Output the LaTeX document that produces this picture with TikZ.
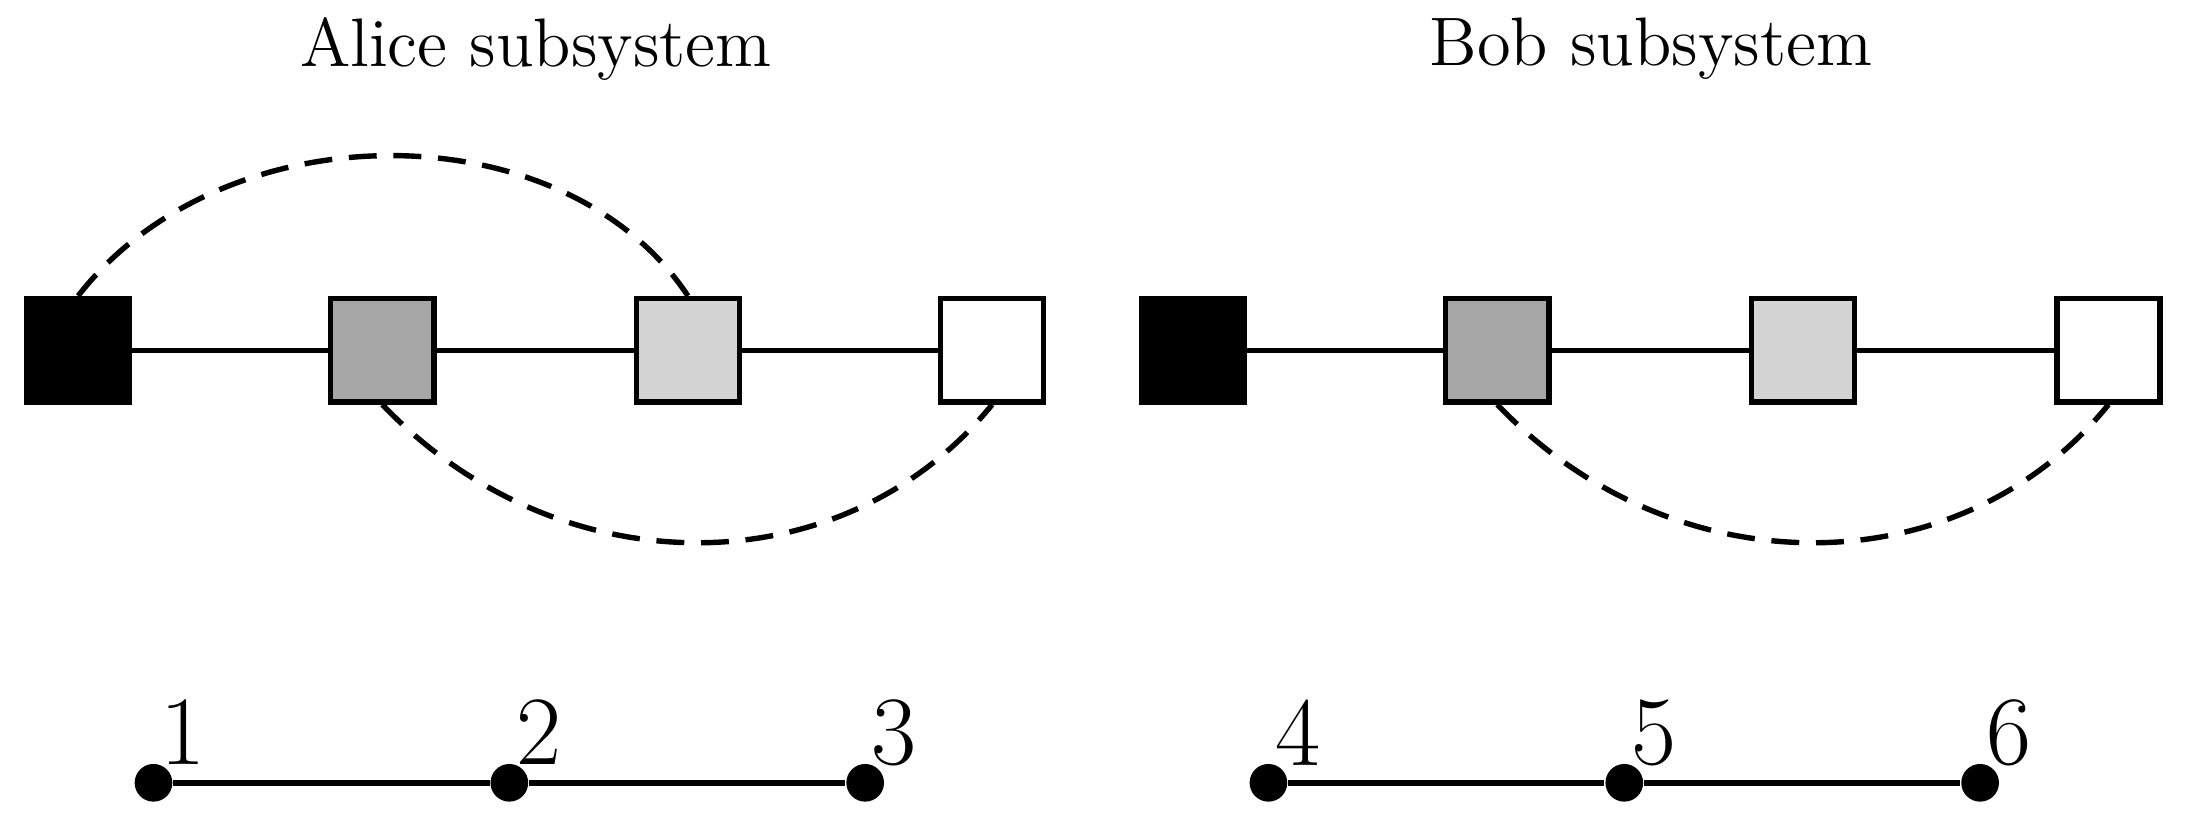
\documentclass[tikz,border=0pt]{standalone}
\begin{document}
\begin{tikzpicture}[
  sq/.style={draw, line width=1.1pt, minimum size=0.74cm, inner sep=0pt},
  ln/.style={line width=1.1pt},
  dsh/.style={line width=1.1pt, dash pattern=on 0.2cm off 0.12cm},
  dot/.style={circle, fill, inner sep=0pt, minimum size=0.27cm},
  num/.style={font=\fontsize{20}{24}\selectfont, inner sep=0pt},
  ttl/.style={font=\fontsize{14}{17}\selectfont}
]
\useasboundingbox (0,0) rectangle (15.68,5.9);
\node[ttl] (ta) at (3.84,5.55) {Alice subsystem};
\node[ttl] (tb) at (11.83,5.55) {Bob subsystem};
% Alice squares
\node[sq, fill=black] (a1) at (0.56,3.39) {};
\node[sq, fill={rgb,255:red,166;green,166;blue,166}] (a2) at (2.74,3.39) {};
\node[sq, fill={rgb,255:red,211;green,211;blue,211}] (a3) at (4.93,3.39) {};
\node[sq, fill=white] (a4) at (7.11,3.39) {};
\draw[ln] (a1) -- (a2) (a2) -- (a3) (a3) -- (a4);
\draw[dsh] (a1.north) .. controls (1.6,5.12) and (4.04,5.12) .. (a3.north);
\draw[dsh] (a2.south) .. controls (4.0,1.68) and (6.04,1.68) .. (a4.south);
% Bob squares
\node[sq, fill=black] (b1) at (8.55,3.39) {};
\node[sq, fill={rgb,255:red,166;green,166;blue,166}] (b2) at (10.73,3.39) {};
\node[sq, fill={rgb,255:red,211;green,211;blue,211}] (b3) at (12.92,3.39) {};
\node[sq, fill=white] (b4) at (15.11,3.39) {};
\draw[ln] (b1) -- (b2) (b2) -- (b3) (b3) -- (b4);
\draw[dsh] (b2.south) .. controls (11.99,1.68) and (14.04,1.68) .. (b4.south);
% dots
\node[dot] (d1) at (1.10,0.29) {};
\node[dot] (d2) at (3.65,0.29) {};
\node[dot] (d3) at (6.20,0.29) {};
\node[dot] (d4) at (9.09,0.29) {};
\node[dot] (d5) at (11.64,0.29) {};
\node[dot] (d6) at (14.19,0.29) {};
\draw[ln] (d1) -- (d2) -- (d3);
\draw[ln] (d4) -- (d5) -- (d6);
\node[num] (n1) at (1.31,0.65) {1};
\node[num] (n2) at (3.86,0.65) {2};
\node[num] (n3) at (6.41,0.65) {3};
\node[num] (n4) at (9.30,0.65) {4};
\node[num] (n5) at (11.85,0.65) {5};
\node[num] (n6) at (14.40,0.65) {6};
\end{tikzpicture}
\end{document}
